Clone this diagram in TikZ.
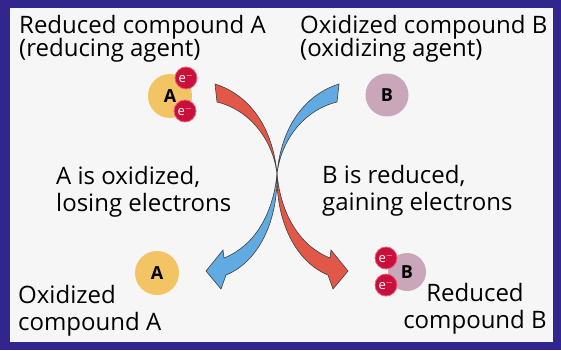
\documentclass[tikz,border=0pt]{standalone}
\usepackage{fontspec}
\setmainfont{Open Sans}
\usetikzlibrary{positioning}
\definecolor{frameblue}{RGB}{48,38,142}
\definecolor{paper}{RGB}{246,246,246}
\definecolor{compA}{RGB}{242,196,100}
\definecolor{compB}{RGB}{201,166,186}
\definecolor{electron}{RGB}{200,16,58}
\definecolor{electronrim}{RGB}{232,96,128}
\definecolor{lossred}{RGB}{226,88,72}
\definecolor{gainblue}{RGB}{98,170,226}

\begin{document}
\begin{tikzpicture}[x=1pt, y=-1pt,
  caption/.style={align=left, inner sep=0pt, font=\fontsize{24}{27}\selectfont},
  compound/.style={circle, inner sep=0pt, minimum size=44pt,
                   font=\fontsize{18}{18}\selectfont\bfseries},
  electron/.style={circle, fill=electron, draw=electronrim, line width=0.8pt,
                   inner sep=0pt, minimum size=22pt, text=white,
                   font=\fontsize{13}{13}\selectfont},
  ribbon/.style={draw=black!75, line width=0.6pt}]
\useasboundingbox (0,0) rectangle (561,350);
\fill[frameblue] (0,0) rectangle (561,350);
\fill[paper] (10,8) rectangle (553,342);

\node[caption, anchor=north west] (reducedA) at (19,15) {Reduced compound A\\[-4pt](reducing agent)};
\node[caption, anchor=north west] (oxidizedB) at (300,15) {Oxidized compound B\\[-4pt](oxidizing agent)};
\node[caption, anchor=north west] (losesA) at (56,166) {A is oxidized,\\losing electrons};
\node[caption, anchor=north west] (gainsB) at (322,165) {B is reduced,\\gaining electrons};
\node[caption, anchor=north west] (oxidizedA) at (18,285) {Oxidized\\compound A};
\node[caption, anchor=north, align=center] (reducedB) at (475,283) {Reduced\\compound B};

\node[compound, fill=compA] (redA) at (170,96) {A};
\node[electron] (redAe1) at (186,78) {e$^-$};
\node[electron] (redAe2) at (185,111) {e$^-$};
\node[compound, fill=compB, minimum size=43pt] (oxB) at (387,95) {B};

\node[compound, fill=compA] (oxA) at (157,273) {A};
\node[compound, fill=compB, minimum size=38pt] (redB) at (407,272) {B};
\node[electron] (redBe1) at (386,258) {e$^-$};
\node[electron] (redBe2) at (386,285) {e$^-$};

\filldraw[ribbon, fill=lossred] (215,84) .. controls (250,95) and (273,128) .. (277,174)
  .. controls (281,215) and (300,246) .. (330,258) -- (331,250) -- (348,271) -- (333,289) -- (328,275)
  .. controls (296,262) and (276,222) .. (277,174)
  .. controls (273,140) and (250,110) .. (217,102) -- cycle;
\filldraw[ribbon, fill=gainblue] (339,84) .. controls (304,95) and (281,128) .. (277,174)
  .. controls (273,215) and (254,246) .. (224,258) -- (223,250) -- (206,271) -- (221,289) -- (226,275)
  .. controls (258,262) and (278,222) .. (277,174)
  .. controls (281,140) and (304,110) .. (337,102) -- cycle;
\end{tikzpicture}
\end{document}
